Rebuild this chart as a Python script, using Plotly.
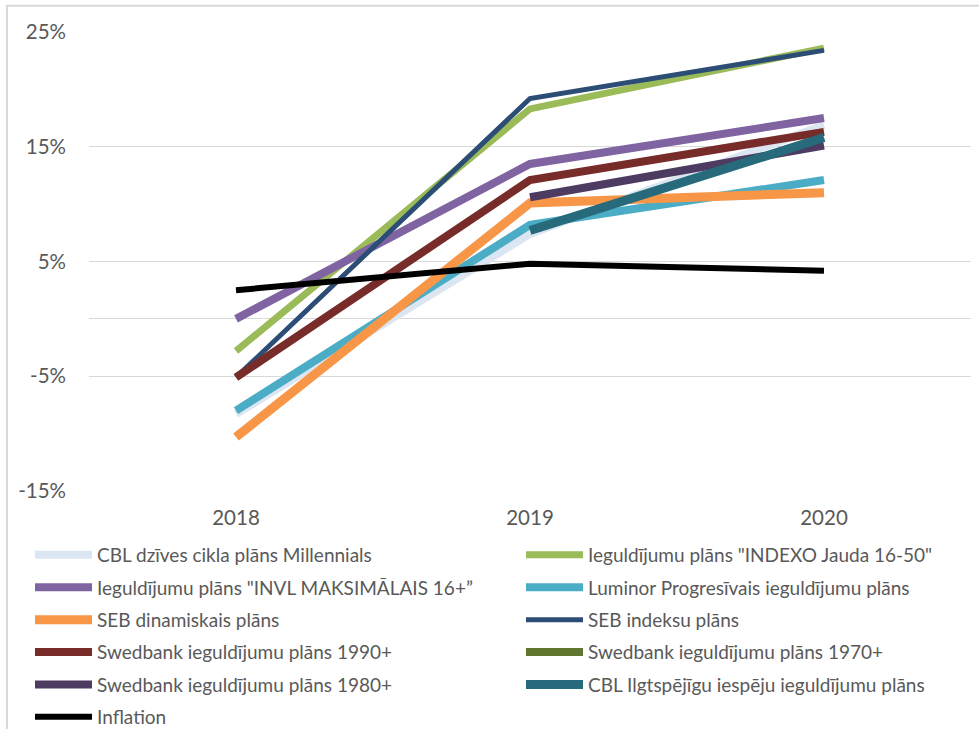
import plotly.graph_objects as go

years = ["2018", "2019", "2020"]

series_names = [
    "CBL dzīves cikla plāns Millennials",
    "Ieguldījumu plāns \"INDEXO Jauda 16-50\"",
    "Ieguldījumu plāns \"INVL MAKSIMĀLAIS 16+”",
    "Luminor Progresīvais ieguldījumu plāns",
    "SEB dinamiskais plāns",
    "SEB indeksu plāns",
    "Swedbank ieguldījumu plāns 1990+",
    "Swedbank ieguldījumu plāns 1970+",
    "Swedbank ieguldījumu plāns 1980+",
    "CBL Ilgtspējīgu iespēju ieguldījumu plāns",
    "Inflation",
]

millennials = [-8.3, 7.4, 16.9]
indexo = [-2.8, 18.3, 23.6]
invl = [0.0, 13.5, 17.5]
luminor = [-8.0, 8.2, 12.1]
seb_dinamiskais = [-10.3, 10.1, 11.0]
seb_indeksu = [-5.1, 19.2, 23.4]
swed_1990 = [-5.1, 12.1, 16.3]
swed_1970 = [None, None, None]
swed_1980 = [None, 10.6, 15.1]
cbl_ilgt = [None, 7.7, 15.8]
inflation = [2.5, 4.8, 4.2]

series_values = [millennials, indexo, invl, luminor, seb_dinamiskais, seb_indeksu,
                 swed_1990, swed_1970, swed_1980, cbl_ilgt, inflation]
colors = ["#DCE6F2", "#9BBB59", "#8064A2", "#4BACC6", "#F79646", "#2C4D75",
          "#772C2A", "#5F7530", "#4D3B62", "#276A7C", "#000000"]
widths = [8, 7, 8, 8, 9, 5, 8, 8, 8, 9, 6]

ytick_vals = [-15, -5, 0, 5, 15, 25]
ytick_text = ["-15%", "-5%", "", "5%", "15%", "25%"]

font_family = "Lato, Carlito, sans-serif"

fig = go.Figure()
for i, (name, vals, c, w) in enumerate(zip(series_names, series_values, colors, widths)):
    fig.add_trace(go.Scatter(
        x=years, y=vals, name=name, mode="lines",
        line=dict(color=c, width=w),
        legend="legend" if i % 2 == 0 else "legend2",
        legendgroup=f"g{i}",
    ))

legend_common = dict(
    orientation="v", xref="container", yref="container", yanchor="top",
    xanchor="left", font=dict(size=19, color="#595959", family=font_family),
    tracegroupgap=4.7, itemwidth=57, bgcolor="rgba(0,0,0,0)", borderwidth=0,
)

fig.update_layout(
    width=979, height=729,
    margin=dict(l=89, r=8, t=32, b=238, autoexpand=False),
    paper_bgcolor="white", plot_bgcolor="white",
    font=dict(family=font_family, color="#595959", size=16),
    xaxis=dict(type="category", range=[-0.5, 2.5], showgrid=False, zeroline=False,
               showline=False, ticks="", ticklabelstandoff=12,
               tickfont=dict(size=20.5, color="#595959")),
    yaxis=dict(range=[-15, 25], tickvals=ytick_vals, ticktext=ytick_text,
               showgrid=True, gridcolor="#D9D9D9", gridwidth=1.3, zeroline=False,
               showline=False, ticks="", ticklabelstandoff=22,
               tickfont=dict(size=20.5, color="#595959")),
    legend=dict(x=30 / 979, y=1 - 536 / 729, **legend_common),
    legend2=dict(x=521 / 979, y=1 - 536 / 729, **legend_common),
    showlegend=True,
)

# chart-area border (left and top edges visible)
fig.add_shape(type="path", xref="paper", yref="paper",
              path="M -0.093 -0.55 L -0.093 1.057 L 1.02 1.057",
              line=dict(color="#D9D9D9", width=2))

fig.write_html("out.html")
